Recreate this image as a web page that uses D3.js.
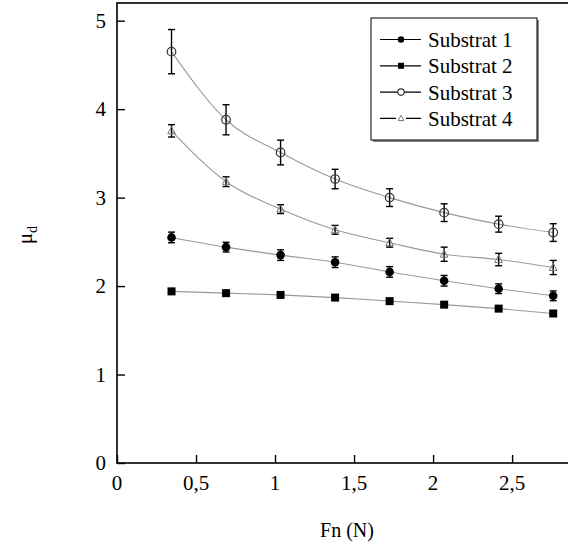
<!DOCTYPE html>
<html><head><meta charset="utf-8">
<script src="https://cdn.jsdelivr.net/npm/d3@7"></script>
</head><body style="margin:0">
<script>
const fn = [0.345, 0.69, 1.035, 1.38, 1.725, 2.07, 2.415, 2.76];
const seriesNames = ["Substrat 1", "Substrat 2", "Substrat 3", "Substrat 4"];
const s1 = [2.55, 2.44, 2.35, 2.27, 2.16, 2.06, 1.97, 1.89];
const s1err = [0.06, 0.055, 0.06, 0.06, 0.06, 0.06, 0.055, 0.055];
const s2 = [1.94, 1.92, 1.90, 1.87, 1.83, 1.79, 1.745, 1.69];
const s2err = [0, 0, 0, 0, 0, 0, 0, 0];
const s3 = [4.65, 3.88, 3.51, 3.21, 3.00, 2.83, 2.70, 2.605];
const s3err = [0.25, 0.17, 0.14, 0.11, 0.10, 0.10, 0.09, 0.10];
const s4 = [3.755, 3.18, 2.87, 2.636, 2.49, 2.36, 2.30, 2.21];
const s4err = [0.07, 0.055, 0.05, 0.05, 0.05, 0.08, 0.07, 0.08];
const xTicks = [0, 0.5, 1, 1.5, 2, 2.5];
const xTickLabels = ["0", "0,5", "1", "1,5", "2", "2,5"];
const yTicks = [0, 1, 2, 3, 4, 5];

const FONT = "Liberation Serif";
const FONTCSS = "'Liberation Serif', 'Times New Roman', serif";
const W = 568, H = 546;
const x = d3.scaleLinear().domain([0, 2.86]).range([117, 569]);
const y = d3.scaleLinear().domain([0, 5.2]).range([463, 3]);

const svg = d3.select("body").append("svg").attr("width", W).attr("height", H).style("display", "block");

const series = [
  {name: seriesNames[0], v: s1, e: s1err, shape: "fcircle"},
  {name: seriesNames[1], v: s2, e: s2err, shape: "square"},
  {name: seriesNames[2], v: s3, e: s3err, shape: "ocircle"},
  {name: seriesNames[3], v: s4, e: s4err, shape: "triangle"}
];

function addText(g, tx, ty, size, str, anchor) {
  return g.append("text").attr("x", tx).attr("y", ty).attr("font-size", size)
    .attr("font-family", FONT).style("font-family", FONTCSS)
    .attr("text-anchor", anchor || "start").text(str);
}

function drawMarker(g, shape, cx, cy, scale) {
  if (shape === "fcircle") g.append("circle").attr("cx", cx).attr("cy", cy).attr("r", 4.3 * scale).attr("fill", "#000");
  else if (shape === "square") { const s = 8 * scale; g.append("rect").attr("x", cx - s/2).attr("y", cy - s/2).attr("width", s).attr("height", s).attr("fill", "#000"); }
  else if (shape === "ocircle") g.append("circle").attr("cx", cx).attr("cy", cy).attr("r", 4.3 * scale).attr("fill", "none").attr("stroke", "#333").attr("stroke-width", 1.2);
  else if (shape === "triangle") {
    const s = 4.2 * scale;
    g.append("path").attr("d", `M${cx},${cy - s}L${cx + s*0.9},${cy + s*0.7}L${cx - s*0.9},${cy + s*0.7}Z`).attr("fill", "none").attr("stroke", "#777").attr("stroke-width", 1);
  }
}

const line = d3.line().x((d, i) => x(fn[i])).y(d => y(d)).curve(d3.curveMonotoneX);
const plot = svg.append("g");
series.forEach(s => {
  plot.append("path").attr("d", line(s.v)).attr("fill", "none").attr("stroke", "#999").attr("stroke-width", 1.1);
});
series.forEach(s => {
  s.v.forEach((v, i) => {
    if (s.e[i] > 0) {
      const cx = x(fn[i]), y1 = y(v + s.e[i]), y2 = y(v - s.e[i]);
      const eg = plot.append("g").attr("stroke", "#000").attr("stroke-width", 1.4);
      eg.append("line").attr("x1", cx).attr("x2", cx).attr("y1", y1).attr("y2", y2);
      eg.append("line").attr("x1", cx - 3.5).attr("x2", cx + 3.5).attr("y1", y1).attr("y2", y1);
      eg.append("line").attr("x1", cx - 3.5).attr("x2", cx + 3.5).attr("y1", y2).attr("y2", y2);
    }
    drawMarker(plot, s.shape, x(fn[i]), y(v), 1);
  });
});

// frame
svg.append("rect").attr("x", 117).attr("y", 3).attr("width", 452).attr("height", 460)
  .attr("fill", "none").attr("stroke", "#000").attr("stroke-width", 1.6);

// axes (ticks from d3 axes, labels as own text)
const xAxis = d3.axisBottom(x).tickValues(xTicks).tickSize(-8).tickFormat("");
const gx = svg.append("g").attr("transform", "translate(0,463)").call(xAxis);
gx.select(".domain").remove();
gx.selectAll("line").attr("stroke-width", 1.4);
gx.selectAll("text").remove();
const xl = svg.append("g");
xTicks.forEach((t, i) => addText(xl, x(t), 490, 21, xTickLabels[i], "middle"));

const yAxis = d3.axisLeft(y).tickValues(yTicks).tickSize(-8).tickFormat("");
const gy = svg.append("g").attr("transform", "translate(117,0)").call(yAxis);
gy.select(".domain").remove();
gy.selectAll("line").attr("stroke-width", 1.4);
gy.selectAll("text").remove();
const ylg = svg.append("g");
yTicks.forEach(t => addText(ylg, 106, y(t) + 7, 21, String(t), "end"));

// axis titles
addText(svg, 347, 537, 20, "Fn (N)", "middle");
const yl = svg.append("text").attr("transform", "translate(32,235) rotate(-90)").attr("text-anchor", "middle")
  .attr("font-family", FONT).style("font-family", FONTCSS).attr("font-size", 21);
yl.append("tspan").text("μ");
yl.append("tspan").attr("font-size", 14).attr("dy", 5).text("d");

// legend
const lg = svg.append("g");
lg.append("rect").attr("x", 373).attr("y", 20).attr("width", 166).attr("height", 122).attr("fill", "#888");
lg.append("rect").attr("x", 371).attr("y", 18).attr("width", 166).attr("height", 122).attr("fill", "#fff").attr("stroke", "#000").attr("stroke-width", 1);
series.forEach((s, i) => {
  const ry = 39.5 + i * 26.3;
  lg.append("line").attr("x1", 380).attr("x2", 421).attr("y1", ry).attr("y2", ry).attr("stroke", "#000").attr("stroke-width", 1.2);
  const mg = lg.append("g");
  if (s.shape === "ocircle") mg.append("circle").attr("cx", 401).attr("cy", ry).attr("r", 3.2).attr("fill", "#fff");
  if (s.shape === "triangle") mg.append("rect").attr("x", 396).attr("y", ry - 4).attr("width", 10).attr("height", 8).attr("fill", "#fff");
  drawMarker(mg, s.shape, 401, ry, 0.75);
  addText(lg, 428, ry + 7.5, 21, s.name);
});
</script>
</body></html>
